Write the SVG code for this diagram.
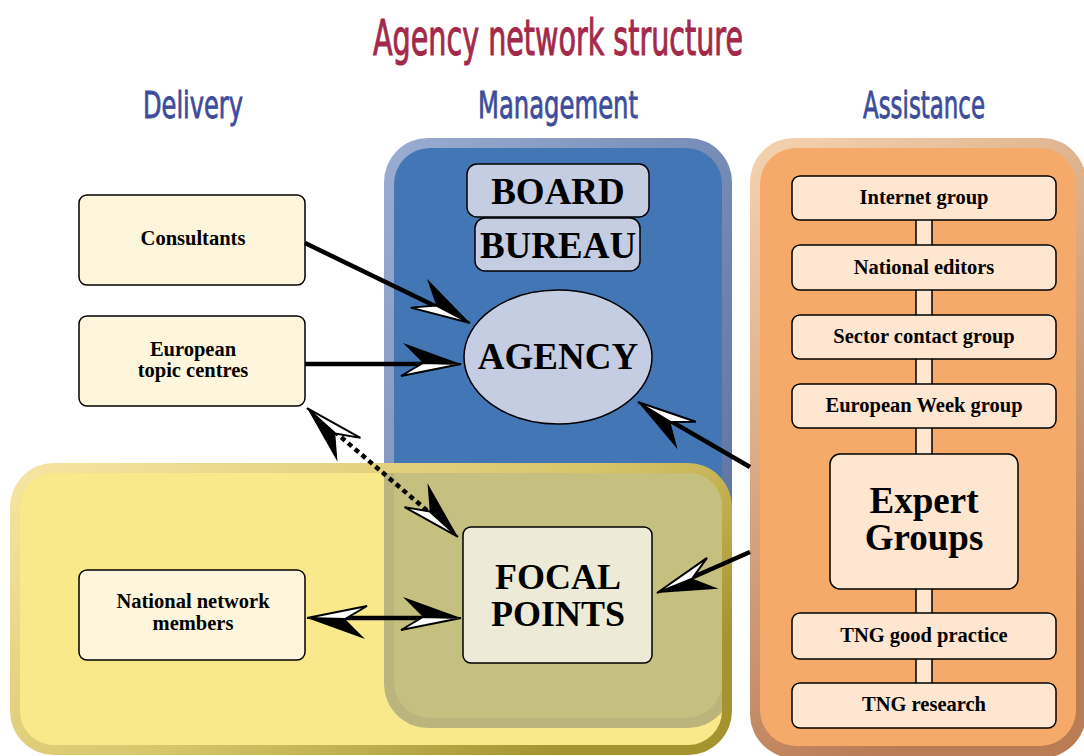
<svg xmlns="http://www.w3.org/2000/svg" width="1084" height="756" viewBox="0 0 1084 756">
  <style>
    .title { font-family: "DejaVu Sans Condensed", "Liberation Sans Narrow", "Liberation Sans", sans-serif; font-stretch: condensed; fill: #A3294A; stroke: #A3294A; stroke-width: 1; }
    .head { font-family: "DejaVu Sans Condensed", "Liberation Sans Narrow", "Liberation Sans", sans-serif; font-stretch: condensed; fill: #3D4C9B; stroke: #3D4C9B; stroke-width: 0.8; font-size: 38px; text-anchor: middle; }
    .box { stroke: #000; stroke-width: 1.5; }
    .dlv { fill: #FDF5DC; }
    .ast { fill: #FFE6D0; }
    .mgmt { fill: #C5CDE3; }
    .t { font-family: "Liberation Serif", "Times New Roman", serif; font-weight: bold; fill: #000; text-anchor: middle; }
    .s { font-size: 20.5px; }
    .l { font-size: 37px; }
    .fp { font-size: 36px; }
    .conn { fill: none; stroke: #000; stroke-width: 4.5; }
    .dot { stroke-dasharray: 5 4; }
  </style>
  <defs>
    <linearGradient id="gBlue" x1="0" y1="0" x2="1" y2="1">
      <stop offset="0" stop-color="#9AAED2"/>
      <stop offset="1" stop-color="#52699A"/>
    </linearGradient>
    <linearGradient id="gYel" x1="0" y1="0" x2="1" y2="0.6">
      <stop offset="0" stop-color="#F6E6A4"/>
      <stop offset="0.6" stop-color="#D8C56A"/>
      <stop offset="1" stop-color="#A59330"/>
    </linearGradient>
    <linearGradient id="gOr" x1="0" y1="0" x2="0.4" y2="1">
      <stop offset="0" stop-color="#F5D3B0"/>
      <stop offset="1" stop-color="#B97C55"/>
    </linearGradient>
    <clipPath id="yelInner">
      <rect x="20" y="473" width="702" height="272" rx="34"/>
    </clipPath>
    <marker id="ah" markerUnits="userSpaceOnUse" orient="auto-start-reverse" refX="-36" refY="0" markerWidth="80" markerHeight="60" overflow="visible">
      <path d="M0,0 L-58,-21 L-38,-1 Z" fill="#000"/>
      <path d="M0,0 L-38,-1 L-60,12 Z" fill="#fff" stroke="#000" stroke-width="2"/>
    </marker>
  </defs>

  <rect width="1084" height="756" fill="#fff"/>

  <text class="title" x="558" y="55" font-size="49" text-anchor="middle" textLength="370" lengthAdjust="spacingAndGlyphs">Agency network structure</text>
  <text class="head" x="193" y="118" textLength="100" lengthAdjust="spacingAndGlyphs">Delivery</text>
  <text class="head" x="558" y="118" textLength="160" lengthAdjust="spacingAndGlyphs">Management</text>
  <text class="head" x="924" y="118" textLength="122" lengthAdjust="spacingAndGlyphs">Assistance</text>

  <g id="panel-management">
    <rect x="384" y="138" width="348" height="590" rx="44" fill="url(#gBlue)"/>
    <rect x="394" y="148" width="328" height="570" rx="36" fill="#4276B4"/>
  </g>

  <g id="panel-delivery">
    <rect x="10" y="463" width="722" height="292" rx="44" fill="url(#gYel)"/>
    <rect x="20" y="473" width="702" height="272" rx="34" fill="#FAE98B"/>
    <g clip-path="url(#yelInner)">
      <rect x="384" y="138" width="348" height="590" rx="44" fill="#BBB47C"/>
      <rect x="394" y="148" width="328" height="570" rx="36" fill="#C5C07F"/>
    </g>
  </g>

  <g id="panel-assistance">
    <rect x="750" y="138" width="336" height="620" rx="44" fill="url(#gOr)"/>
    <rect x="760" y="148" width="316" height="598" rx="36" fill="#F6AA6A"/>
    <rect x="916" y="215" width="16" height="472" class="box ast"/>
  </g>

  <g id="node-board">
    <rect x="467" y="164" width="182" height="53" rx="10" class="box mgmt"/>
    <text x="558" y="204" class="t l">BOARD</text>
  </g>
  <g id="node-bureau">
    <rect x="475" y="218" width="165" height="53" rx="10" class="box mgmt"/>
    <text x="558" y="258" class="t l">BUREAU</text>
  </g>
  <g id="node-agency">
    <ellipse cx="558" cy="357" rx="94" ry="67" class="box mgmt"/>
    <text x="558" y="369" class="t l">AGENCY</text>
  </g>
  <g id="node-focal">
    <rect x="463" y="527" width="189" height="136" rx="8" class="box" fill="#EDEBD7"/>
    <text x="558" y="589" class="t fp">FOCAL</text>
    <text x="558" y="626" class="t fp">POINTS</text>
  </g>

  <g id="node-consultants">
    <rect x="79" y="195" width="226" height="90" rx="8" class="box dlv"/>
    <text x="193" y="245" class="t s">Consultants</text>
  </g>
  <g id="node-etc">
    <rect x="79" y="316" width="226" height="90" rx="8" class="box dlv"/>
    <text x="193" y="356" class="t s">European</text>
    <text x="193" y="377" class="t s">topic centres</text>
  </g>
  <g id="node-nnm">
    <rect x="79" y="570" width="226" height="90" rx="8" class="box dlv"/>
    <text x="193" y="608" class="t s">National network</text>
    <text x="193" y="630" class="t s">members</text>
  </g>

  <g id="node-internet">
    <rect x="792" y="176" width="264" height="44" rx="8" class="box ast"/>
    <text x="924" y="204" class="t s">Internet group</text>
  </g>
  <g id="node-editors">
    <rect x="792" y="245" width="264" height="45" rx="8" class="box ast"/>
    <text x="924" y="274" class="t s">National editors</text>
  </g>
  <g id="node-sector">
    <rect x="792" y="315" width="264" height="44" rx="8" class="box ast"/>
    <text x="924" y="343" class="t s">Sector contact group</text>
  </g>
  <g id="node-week">
    <rect x="792" y="384" width="264" height="44" rx="8" class="box ast"/>
    <text x="924" y="412" class="t s">European Week group</text>
  </g>
  <g id="node-expert">
    <rect x="830" y="454" width="188" height="135" rx="10" class="box ast"/>
    <text x="924" y="513" class="t l">Expert</text>
    <text x="924" y="550" class="t l">Groups</text>
  </g>
  <g id="node-tng-gp">
    <rect x="792" y="613" width="264" height="46" rx="8" class="box ast"/>
    <text x="924" y="642" class="t s">TNG good practice</text>
  </g>
  <g id="node-tng-r">
    <rect x="792" y="683" width="264" height="45" rx="8" class="box ast"/>
    <text x="924" y="711" class="t s">TNG research</text>
  </g>

  <g id="connectors">
    <path class="conn" d="M305,243 L437.6,307.3" marker-end="url(#ah)"/>
    <path class="conn" d="M305,364 L425,364" marker-end="url(#ah)"/>
    <path class="conn dot" d="M334.4,431.4 L430.6,513.6" marker-start="url(#ah)" marker-end="url(#ah)"/>
    <path class="conn" d="M343,618 L425,618" marker-start="url(#ah)" marker-end="url(#ah)"/>
    <path class="conn" d="M750,467 L669.1,420.1" marker-end="url(#ah)"/>
    <path class="conn" d="M750,552 L689.9,578.5" marker-end="url(#ah)"/>
  </g>
</svg>
